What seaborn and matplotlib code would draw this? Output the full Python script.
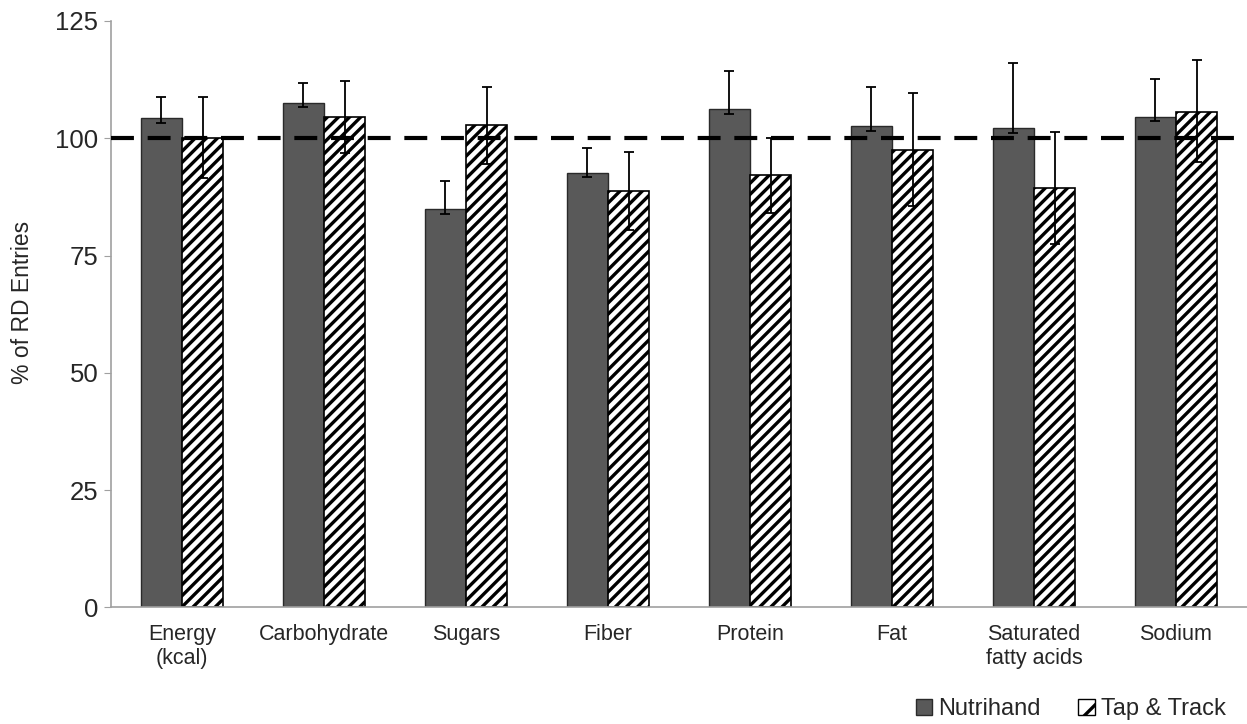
import numpy as np
import pandas as pd
import seaborn as sns
import matplotlib.pyplot as plt
from matplotlib.patches import Patch

# values
categories = ["Energy\n(kcal)", "Carbohydrate", "Sugars", "Fiber", "Protein",
              "Fat", "Saturated\nfatty acids", "Sodium"]
apps = ["Nutrihand", "Tap & Track"]

nutrihand = [104.3, 107.6, 84.9, 92.7, 106.2, 102.6, 102.1, 104.6]
nutrihand_lo = [1.0, 1.0, 1.0, 0.9, 1.0, 1.0, 0.9, 0.9]
nutrihand_hi = [4.6, 4.2, 6.1, 5.3, 8.2, 8.3, 14.0, 8.1]

taptrack = [100.1, 104.5, 102.8, 88.8, 92.2, 97.6, 89.4, 105.7]
taptrack_lo = [8.6, 7.7, 8.2, 8.4, 8.1, 12.0, 12.0, 10.7]
taptrack_hi = [8.6, 7.7, 8.2, 8.3, 7.8, 12.0, 11.9, 10.9]

yticks = [0, 25, 50, 75, 100, 125]

df = pd.DataFrame({
    "category": categories * 2,
    "app": [apps[0]] * len(categories) + [apps[1]] * len(categories),
    "value": nutrihand + taptrack,
})

sns.set_style("white")
plt.rcParams["font.family"] = ["Liberation Sans", "DejaVu Sans"]
plt.rcParams["hatch.linewidth"] = 2.4
plt.rcParams["hatch.color"] = "black"

fig = plt.figure(figsize=(12.47, 7.24), dpi=100)
ax = fig.add_axes([0.089, 0.161, 0.911, 0.81])

sns.barplot(data=df, x="category", y="value", hue="app", order=categories,
            hue_order=apps, palette=["#595959", "white"], width=0.58,
            gap=0, errorbar=None, ax=ax, legend=False, saturation=1)

n = len(categories)
bars = ax.patches[:2 * n]
for i, p in enumerate(bars):
    if i < n:
        p.set_edgecolor("#2a2a2a")
        p.set_linewidth(1.0)
    else:
        p.set_edgecolor("black")
        p.set_linewidth(1.2)
        p.set_hatch("///")

# error bars at bar centres
xs_n = [p.get_x() + p.get_width() / 2 for p in bars[:n]]
xs_t = [p.get_x() + p.get_width() / 2 for p in bars[n:]]
ax.errorbar(xs_n, nutrihand, yerr=[nutrihand_lo, nutrihand_hi], fmt="none",
            ecolor="black", elinewidth=1.3, capsize=3.8, capthick=1.3, zorder=5)
ax.errorbar(xs_t, taptrack, yerr=[taptrack_lo, taptrack_hi], fmt="none",
            ecolor="black", elinewidth=1.3, capsize=3.8, capthick=1.3, zorder=5)

ax.axhline(100, color="black", lw=3, linestyle=(0, (5.5, 3.3)), zorder=4)

ax.set_ylim(0, 125)
ax.set_xlim(-0.5, n - 0.5)
ax.set_yticks(yticks)
ax.tick_params(axis="y", labelsize=18.5, length=5, color="#a0a0a0", direction="out",
               left=True, pad=4)
ax.tick_params(axis="x", labelsize=15.5, length=0, pad=12)
ax.set_xlabel("")
ax.set_ylabel("% of RD Entries", fontsize=16.5)
ax.yaxis.set_label_coords(-0.068, 0.52)

for side in ["top", "right"]:
    ax.spines[side].set_visible(False)
for side in ["left", "bottom"]:
    ax.spines[side].set_color("#a0a0a0")
    ax.spines[side].set_linewidth(1.2)

handles = [Patch(facecolor="#595959", edgecolor="#2a2a2a", label=apps[0]),
           Patch(facecolor="white", edgecolor="black", hatch="/", label=apps[1])]
fig.legend(handles=handles, loc="lower right", bbox_to_anchor=(1.0, -0.024),
           ncol=2, frameon=False, fontsize=17, handlelength=0.7,
           handleheight=0.7, handletextpad=0.25, columnspacing=1.6)

fig.savefig("out.png", dpi=100)
